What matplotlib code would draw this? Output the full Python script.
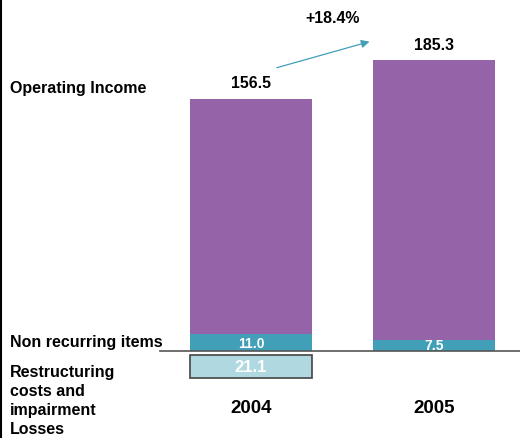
import matplotlib.pyplot as plt

years = ["2004", "2005"]
operating_income = [156.5, 185.3]
non_recurring = [11.0, 7.5]
restructuring = [21.1, None]
growth_label = "+18.4%"

purple = "#9564a8"
teal = "#41a0b8"
light = "#b0d8e0"

plt.rcParams["font.family"] = ["Liberation Sans", "DejaVu Sans"]
plt.rcParams["font.weight"] = "bold"

fig = plt.figure(figsize=(5.2, 4.39), dpi=100)
ax = fig.add_axes([0, 0, 1, 1])
ax.set_xlim(-1.372, 1.470)
ax.set_ylim(-57.7, 233.6)
ax.axis("off")

x = [0, 1]
w = 0.667
ax.bar(x, non_recurring, width=w, color=teal, zorder=2)
ax.bar(x, operating_income, width=w, bottom=non_recurring, color=purple, zorder=2)

for xi, nr, oi in zip(x, non_recurring, operating_income):
    ax.text(xi, nr / 2, f"{nr:.1f}", ha="center", va="center",
            color="white", fontsize=10, fontweight="bold", zorder=3)
    ax.text(xi, nr + oi + 10.5, f"{oi:.1f}", ha="center", va="center",
            color="black", fontsize=11.4, fontweight="bold")

# restructuring box below the axis line
box_gap, box_h = 2.6, 15.2
for xi, r in zip(x, restructuring):
    if r is None:
        continue
    ax.bar(xi, -box_h, width=w, bottom=-box_gap, color=light,
           edgecolor="#444444", linewidth=1.2, zorder=2)
    ax.text(xi, -box_gap - box_h / 2, f"{r:.1f}", ha="center", va="center",
            color="white", fontsize=12, fontweight="bold", zorder=3)

# baseline
ax.plot([-0.497, 1.47], [0, 0], color="#555555", linewidth=1.2, zorder=4)

for xi, yr in zip(x, years):
    ax.text(xi, -37.5, yr, ha="center", va="center", fontsize=13.5, fontweight="bold")

# growth arrow
y0 = non_recurring[0] + operating_income[0] + 20
y1 = non_recurring[1] + operating_income[1] + 13
ax.annotate("", xy=(0.662, y1), xytext=(0.126, y0),
            arrowprops=dict(arrowstyle="-|>", color=teal, lw=0.9,
                            mutation_scale=12))
ax.text(0.445, 221, growth_label, ha="center", va="center",
        fontsize=11.4, fontweight="bold")

# row labels
ax.text(10 / 520, 1 - 89 / 439, "Operating Income", transform=ax.transAxes,
        ha="left", va="center", fontsize=11.5, fontweight="bold")
ax.text(10 / 520, 1 - 343 / 439, "Non recurring items", transform=ax.transAxes,
        ha="left", va="center", fontsize=11.5, fontweight="bold")
ax.text(10 / 520, 1 - 365 / 439, "Restructuring\ncosts and\nimpairment\nLosses",
        transform=ax.transAxes, ha="left", va="top", fontsize=11.5,
        fontweight="bold", linespacing=1.33)

# left border
fig.add_artist(plt.Line2D([0.001, 0.001], [0, 1], color="black", linewidth=1.5))

fig.savefig("out.png", dpi=100)
